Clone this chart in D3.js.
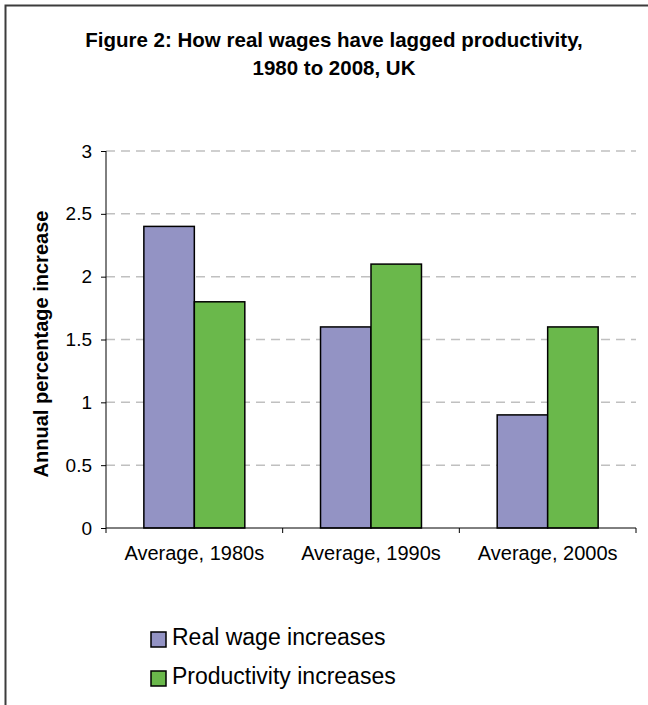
<!DOCTYPE html>
<meta charset="utf-8">
<style>
    body { margin: 0; background: #fff; }
    svg { display: block; font-family: "Liberation Sans", Arial, sans-serif; }
    .grid line { stroke: #c0c0c0; stroke-width: 1.5; stroke-dasharray: 9 6; }
    .axis path, .axis line { stroke: #000; }
</style>
<body>
<svg></svg>
</body>
<script src="https://d3js.org/d3.v7.min.js"></script>
<script>
    // chart data
    var categories = ["Average, 1980s", "Average, 1990s", "Average, 2000s"];
    var seriesNames = ["Real wage increases", "Productivity increases"];
    var realWages = [2.4, 1.6, 0.9];
    var productivity = [1.8, 2.1, 1.6];
    var yTicks = [0, 0.5, 1, 1.5, 2, 2.5, 3];
    var colors = ["#9393c4", "#6ab84b"];

    var width = 648, height = 705;
    var plot = {left: 106, right: 636, top: 151, bottom: 528};

    var svg = d3.select("svg")
        .attr("width", width)
        .attr("height", height);

    // outer frame (right and bottom edges fall outside the picture)
    svg.append("rect")
        .attr("x", 5.5).attr("y", 5.5)
        .attr("width", 700).attr("height", 760)
        .style("fill", "none")
        .style("stroke", "#3c3c3c")
        .style("stroke-width", 2);

    svg.append("text")
        .attr("x", 334).attr("y", 47)
        .attr("text-anchor", "middle")
        .style("font-weight", "bold").style("font-size", "20.5px")
        .text("Figure 2: How real wages have lagged productivity,");
    svg.append("text")
        .attr("x", 334).attr("y", 75)
        .attr("text-anchor", "middle")
        .style("font-weight", "bold").style("font-size", "20.5px")
        .text("1980 to 2008, UK");

    var x = d3.scaleBand()
        .domain(categories)
        .range([plot.left, plot.right]);

    var xSeries = d3.scaleBand()
        .domain(seriesNames)
        .range([0, x.bandwidth()])
        .paddingInner(0)
        .paddingOuter(0.75);

    var y = d3.scaleLinear()
        .domain([0, 3])
        .range([plot.bottom, plot.top]);

    // dashed gridlines
    svg.append("g")
        .attr("class", "grid")
        .selectAll("line")
        .data(yTicks.filter(function (d) { return d > 0; }))
        .enter().append("line")
        .attr("x1", plot.left).attr("x2", plot.right)
        .attr("y1", function (d) { return y(d); })
        .attr("y2", function (d) { return y(d); });

    var rows = categories.map(function (c, i) {
        return {cat: c, values: [realWages[i], productivity[i]]};
    });

    svg.append("g")
        .selectAll("g")
        .data(rows)
        .enter().append("g")
        .attr("transform", function (d) { return "translate(" + x(d.cat) + ",0)"; })
        .selectAll("rect")
        .data(function (d) {
            return d.values.map(function (v, j) { return {name: seriesNames[j], value: v, i: j}; });
        })
        .enter().append("rect")
        .attr("x", function (d) { return xSeries(d.name); })
        .attr("width", xSeries.bandwidth())
        .attr("y", function (d) { return y(d.value); })
        .attr("height", function (d) { return y(0) - y(d.value); })
        .style("fill", function (d) { return colors[d.i]; })
        .style("stroke", "#000")
        .style("stroke-width", 1.5);

    // y axis
    var yAxis = svg.append("g")
        .attr("class", "axis")
        .attr("transform", "translate(" + plot.left + ",0)")
        .call(d3.axisLeft(y).tickValues(yTicks).tickSize(5).tickPadding(9)
            .tickFormat(function (d) { return String(d); }));
    yAxis.select(".domain").attr("d", "M0," + plot.top + "V" + plot.bottom);
    yAxis.selectAll("text")
        .style("font-size", "19px")
        .style("font-family", "'Liberation Sans', Arial, sans-serif")
        .attr("fill", "#000");

    // x axis with ticks at category boundaries
    var xAxis = svg.append("g")
        .attr("class", "axis")
        .attr("transform", "translate(0," + plot.bottom + ")");
    xAxis.append("line")
        .attr("x1", plot.left).attr("x2", plot.right)
        .style("stroke", "#000");
    xAxis.selectAll(".bound")
        .data(categories.concat(["end"]))
        .enter().append("line")
        .attr("class", "bound")
        .attr("x1", function (d, i) { return plot.left + i * x.step(); })
        .attr("x2", function (d, i) { return plot.left + i * x.step(); })
        .attr("y1", 0).attr("y2", 5)
        .style("stroke", "#000");
    xAxis.selectAll(".lbl")
        .data(categories)
        .enter().append("text")
        .attr("class", "lbl")
        .attr("x", function (d) { return x(d) + x.bandwidth() / 2; })
        .attr("y", 32)
        .attr("text-anchor", "middle")
        .style("font-size", "20px")
        .text(function (d) { return d; });

    svg.append("text")
        .attr("transform", "translate(48,344) rotate(-90)")
        .attr("text-anchor", "middle")
        .style("font-weight", "bold").style("font-size", "20px")
        .text("Annual percentage increase");

    // legend
    var legend = svg.append("g")
        .selectAll("g")
        .data(seriesNames)
        .enter().append("g")
        .attr("transform", function (d, i) { return "translate(151," + (632 + i * 39) + ")"; });
    legend.append("rect")
        .attr("width", 15).attr("height", 15)
        .style("fill", function (d, i) { return colors[i]; })
        .style("stroke", "#000")
        .style("stroke-width", 1.5);
    legend.append("text")
        .attr("x", 21).attr("y", 13)
        .style("font-size", "23px")
        .text(function (d) { return d; });
</script>
</html>
